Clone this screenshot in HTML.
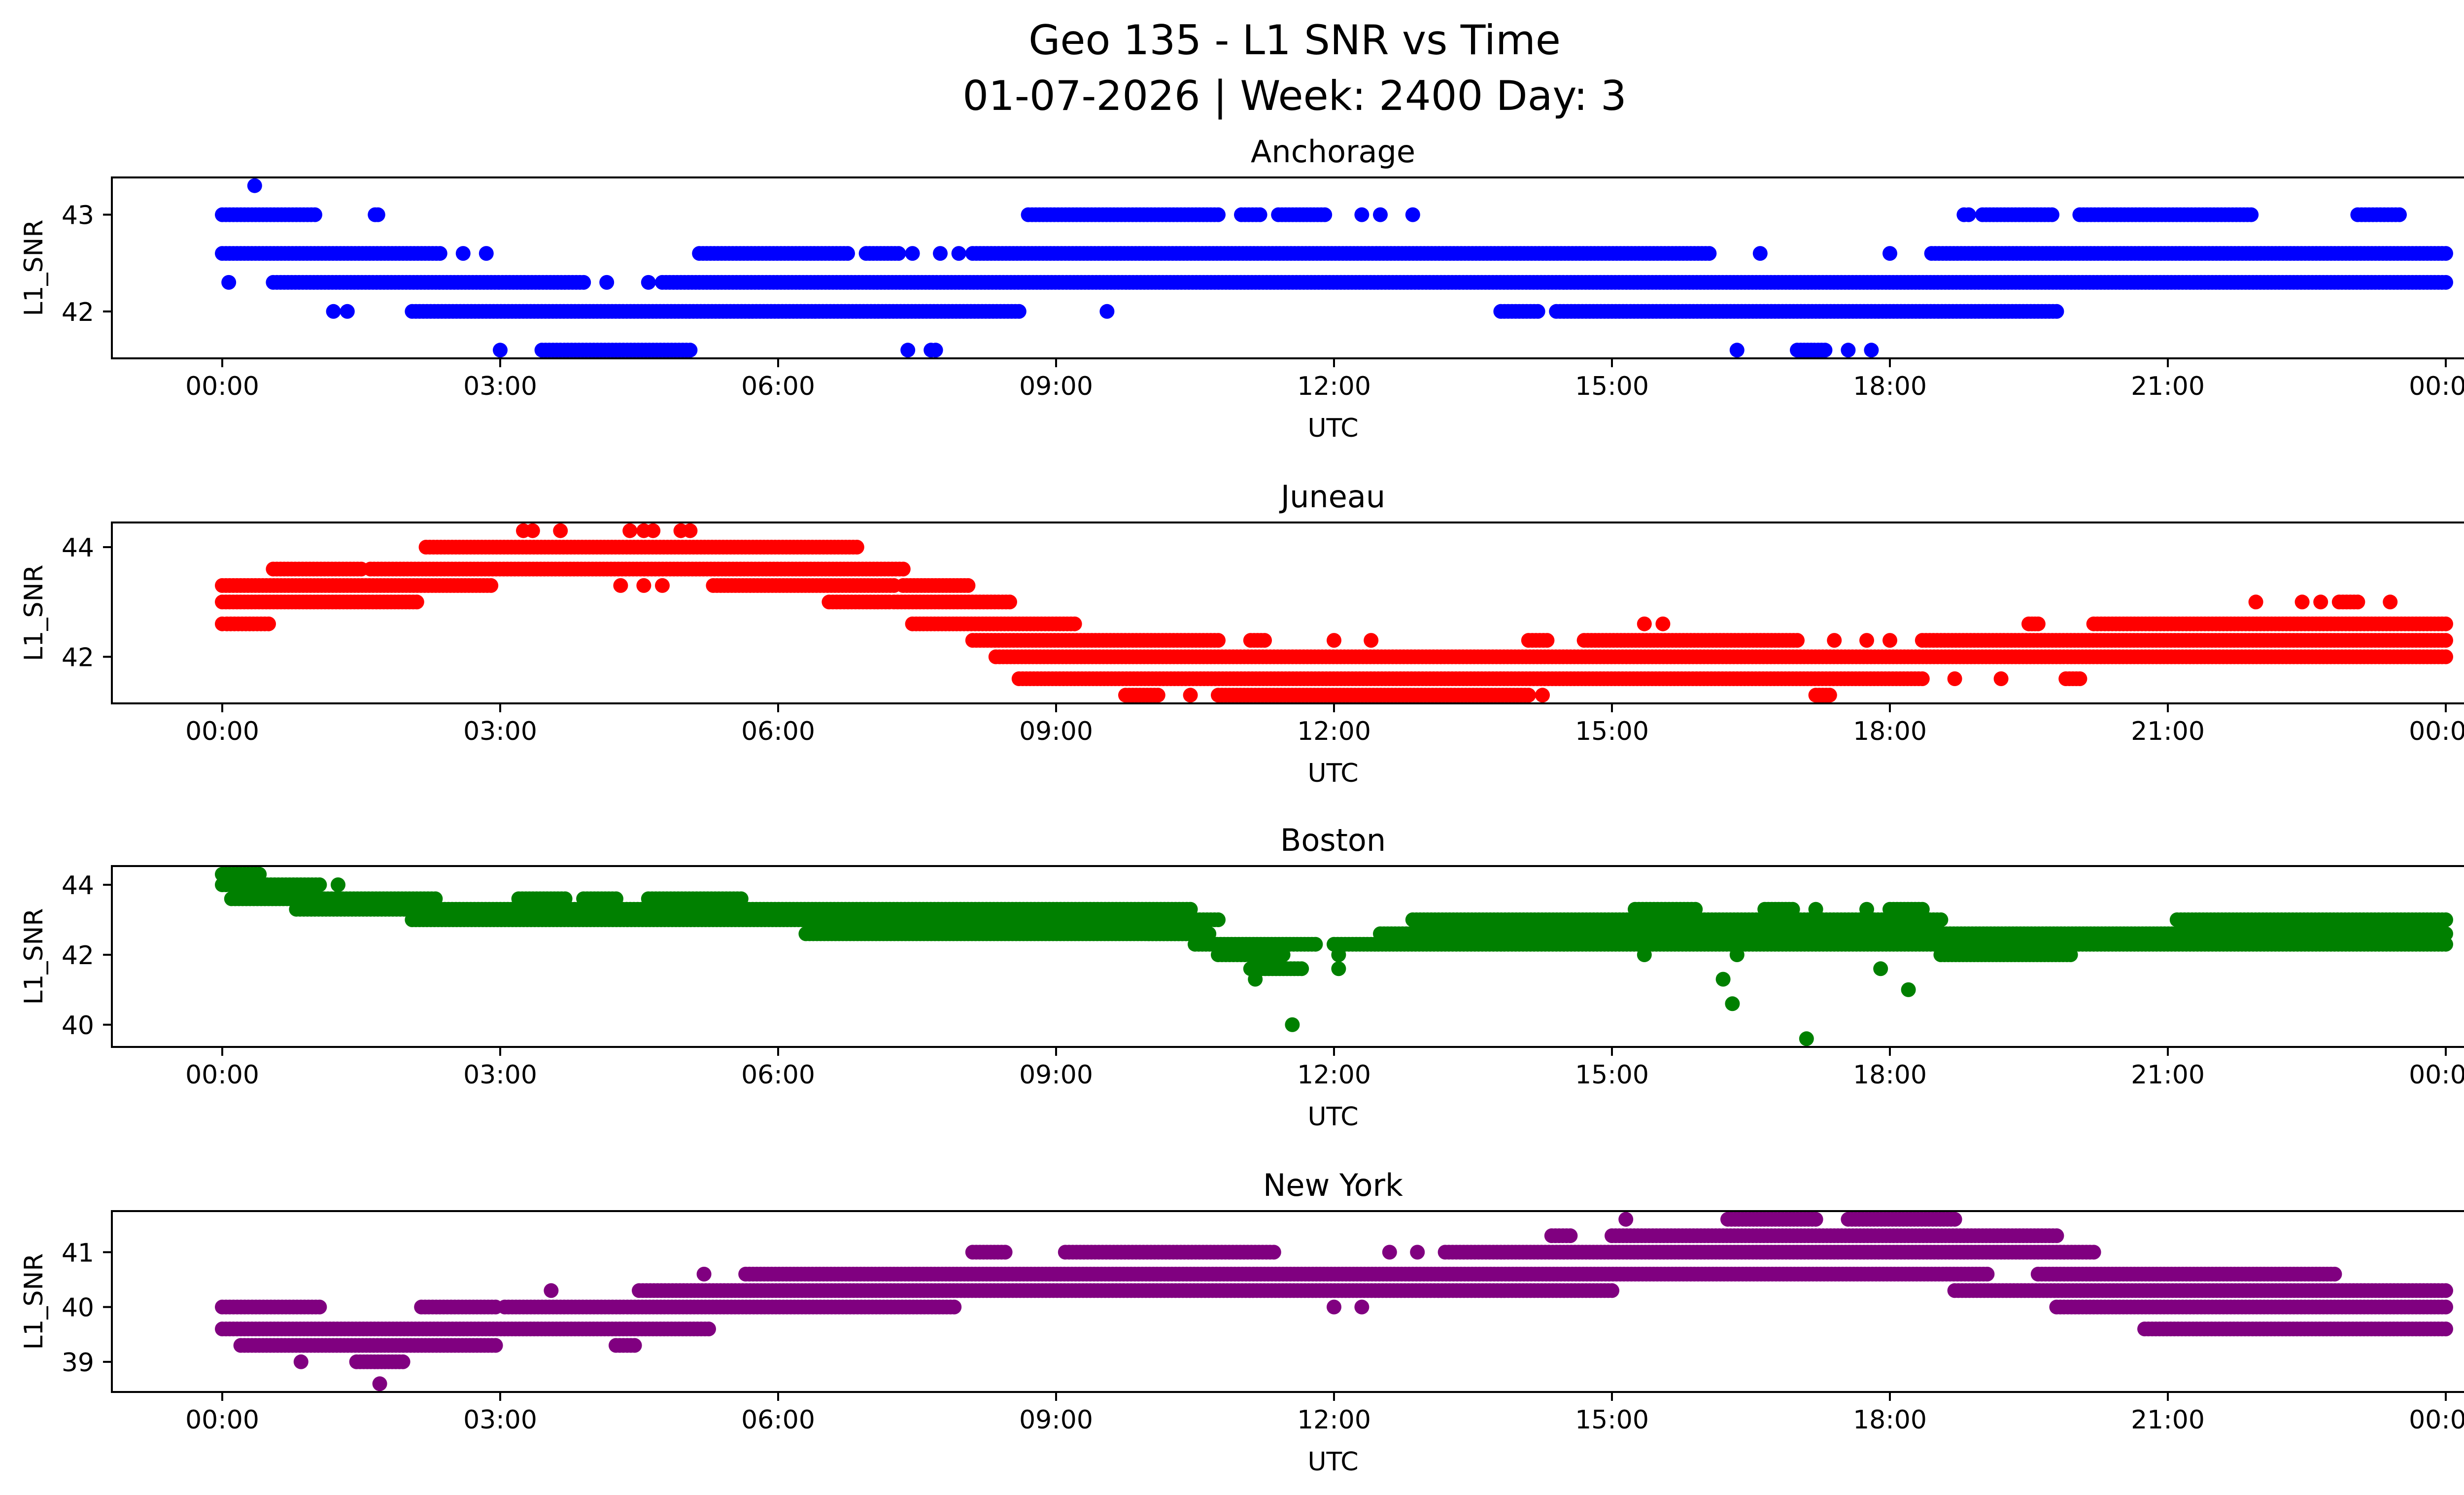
<!DOCTYPE html>
<html><head><meta charset="utf-8"><style>
html,body{margin:0;padding:0;background:#fff;}
svg{display:block;font-family:"DejaVu Sans","Liberation Sans",sans-serif;}
</style></head><body>
<svg id="chart" width="5225" height="3033" viewBox="0 0 5225 3033" xmlns="http://www.w3.org/2000/svg">
<rect width="5225" height="3033" fill="#fff"/>
<text x="2627" y="110" font-size="83" text-anchor="middle">Geo 135 - L1 SNR vs Time</text>
<text x="2627" y="223" font-size="83" text-anchor="middle">01-07-2026 | Week: 2400 Day: 3</text>
</svg>
<script>
// x-axis
const xTickHours = [0,3,6,9,12,15,18,21,24];
const xTickLabels = ["00:00","03:00","06:00","09:00","12:00","15:00","18:00","21:00","00:00"];

// Anchorage bands
const anchValues = [43.3,43,43,43,43,43,43,43,43,43,43,43,43,
 42.6,42.6,42.6,42.6,42.6,42.6,42.6,42.6,42.6,42.6,42.6,42.6,
 42.3,42.3,42.3,42.3,42.3,
 42,42,42,42,42,42,
 41.6,41.6,41.6,41.6,41.6,41.6,41.6,41.6];
const anchStarts = [0.35,0,1.65,8.7,11.0,11.4,12.3,12.5,12.85,18.8,19.0,20.05,23.05,
 0,2.6,2.85,5.15,6.95,7.45,7.75,7.95,8.1,16.6,18.0,18.45,
 0.07,0.55,4.15,4.6,4.75,
 1.2,1.35,2.05,9.55,13.8,14.4,
 3.0,3.45,7.4,7.65,16.35,17.0,17.55,17.8];
const anchEnds = [0.35,1.0,1.68,10.75,11.2,11.9,12.3,12.5,12.85,18.85,19.75,21.9,23.5,
 2.35,2.6,2.85,6.75,7.3,7.45,7.75,7.95,16.05,16.6,18.0,18.45,
 0.07,3.9,4.15,4.6,24,
 1.2,1.35,8.6,9.55,14.2,19.8,
 3.0,5.05,7.4,7.7,16.35,17.3,17.55,17.8];
// fix last 42.6 band to run to end of day
anchEnds[24] = 24;

// Juneau bands
const junValues = [44.3,44.3,44.3,44.3,44.3,44.3,44.3,44.3,
 44,43.6,43.6,
 43.3,43.3,43.3,43.3,43.3,43.3,
 43,43,43,43,43,43,43,43,
 42.6,42.6,42.6,42.6,42.6,42.6,42.6,
 42.3,42.3,42.3,42.3,42.3,42.3,42.3,42.3,42.3,42.3,
 42,
 41.6,41.6,41.6,41.6,
 41.3,41.3,41.3,41.3,41.3];
const junStarts = [3.25,3.35,3.65,4.4,4.55,4.65,4.95,5.05,
 2.2,0.55,1.6,
 0,4.3,4.55,4.75,5.3,7.35,
 0,6.55,7.25,21.95,22.45,22.65,22.85,23.4,
 0.05,7.45,15.35,15.55,19.5,20.2,0,
 8.1,11.1,12.0,12.4,14.1,14.7,17.4,17.75,18.0,18.35,
 8.35,
 8.6,18.7,19.2,19.9,
 9.75,10.45,10.75,14.25,17.2];
const junEnds = [3.25,3.35,3.65,4.4,4.55,4.65,4.95,5.05,
 6.85,1.5,7.35,
 2.9,4.3,4.55,4.75,7.25,8.05,
 2.1,7.2,8.5,21.95,22.45,22.65,23.05,23.4,
 0.5,9.2,15.35,15.55,19.6,24,0,
 10.75,11.25,12.0,12.4,14.3,17.0,17.4,17.75,18.0,24,
 24,
 18.35,18.7,19.2,20.05,
 10.1,10.45,14.1,14.25,17.35];

// Boston bands
const bosValues = [44.3,44,44,
 43.6,43.6,43.6,43.6,
 43.3,43.3,43.3,43.3,43.3,43.3,
 43,43,43,
 42.6,42.6,42.6,
 42.3,42.3,
 42,42,42,42,
 41.6,41.6,41.3,
 40,41.3,40.6,39.6,41.6,41,42];
const bosStarts = [0,0,1.25,
 0.1,3.2,3.9,4.6,
 0.8,15.25,16.65,17.2,17.75,18.0,
 2.05,12.85,21.1,
 6.3,10.0,12.5,
 10.5,12.0,
 10.75,12.05,18.55,15.35,
 11.1,12.05,11.15,
 11.55,16.2,16.3,17.1,17.9,18.2,16.35];
const bosEnds = [0.4,1.05,1.25,
 2.3,3.7,4.25,5.6,
 10.45,15.9,16.95,17.2,17.75,18.35,
 10.75,18.55,24,
 10.4,10.65,24,
 11.8,24,
 11.45,12.05,19.95,15.35,
 11.65,12.05,11.15,
 11.55,16.2,16.3,17.1,17.9,18.2,16.35];

// New York bands
const nyValues = [40,40,40,40,40,40,
 39.6,39.6,
 39.3,39.3,
 39,39,38.6,
 40.3,40.3,40.3,
 40.6,40.6,40.6,
 41,41,41,41,41,
 41.3,41.3,
 41.6,41.6,41.6];
const nyStarts = [0,2.15,3.05,19.8,12.0,12.3,
 0,20.75,
 0.2,4.25,
 0.85,1.45,1.7,
 3.55,4.5,18.7,
 5.2,5.65,19.6,
 8.1,9.1,12.6,12.9,13.2,
 14.35,15.0,
 15.15,16.25,17.55];
const nyEnds = [1.05,2.95,7.9,24,12.0,12.3,
 5.25,24,
 2.95,4.45,
 0.85,1.95,1.7,
 3.55,15.0,24,
 5.2,19.05,22.8,
 8.45,11.35,12.6,12.9,20.2,
 14.55,19.8,
 15.15,17.2,18.7];

const panels = [
 {name:"anchorage", title:"Anchorage", top:360, ymin:41.515, ymax:43.385, ticks:[42,43], color:"#0000ff", v:anchValues, s:anchStarts, e:anchEnds},
 {name:"juneau", title:"Juneau", top:1060, ymin:41.15, ymax:44.45, ticks:[42,44], color:"#ff0000", v:junValues, s:junStarts, e:junEnds},
 {name:"boston", title:"Boston", top:1757, ymin:39.365, ymax:44.535, ticks:[40,42,44], color:"#008000", v:bosValues, s:bosStarts, e:bosEnds},
 {name:"new-york", title:"New York", top:2457, ymin:38.45, ymax:41.75, ticks:[39,40,41], color:"#800080", v:nyValues, s:nyStarts, e:nyEnds}
];

const NS = "http://www.w3.org/2000/svg";
const svg = document.getElementById("chart");
const AX_L = 227, AX_R = 5183, AX_H = 367;
const X0 = 451, PX_PER_H = 188;
function xScale(h){ return X0 + h * PX_PER_H; }
function mk(tag, attrs, parent){
  const el = document.createElementNS(NS, tag);
  for (const k in attrs) el.setAttribute(k, attrs[k]);
  (parent || svg).appendChild(el);
  return el;
}

panels.forEach(p => {
  const g = mk("g", {});
  
  
  const top = p.top, bot = top + AX_H;
  const yScale = v => bot - (v - p.ymin) / (p.ymax - p.ymin) * AX_H;

  const clip = mk("clipPath", {id:"clip-" + p.name}, g);
  mk("rect", {x:AX_L, y:top, width:AX_R-AX_L, height:AX_H}, clip);

  const pts = mk("g", {fill:p.color, "clip-path":"url(#clip-" + p.name + ")"}, g);
  
  
  for (let i = 0; i < p.v.length; i++) {
    const y = yScale(p.v[i]);
    const a = p.s[i], b = p.e[i];
    const n = Math.max(1, Math.round((b - a) / 0.04));
    for (let k = 0; k <= n; k++) {
      const h = (b === a) ? a : a + (b - a) * k / n;
      const c = mk("circle", {cx:xScale(h).toFixed(1), cy:y.toFixed(1), r:15}, pts);
      
      
      if (b === a) break;
    }
  }

  const frame = mk("rect", {x:AX_L, y:top, width:AX_R-AX_L, height:AX_H, fill:"none", stroke:"#000", "stroke-width":4}, g);
  
  

  xTickHours.forEach((h, i) => {
    const x = xScale(h);
    mk("line", {x1:x, y1:bot, x2:x, y2:bot+18, stroke:"#000", "stroke-width":4}, g);
    const t = mk("text", {x:x, y:bot+74, "font-size":52, "text-anchor":"middle"}, g);
    
    
    t.textContent = xTickLabels[i];
  });
  p.ticks.forEach(v => {
    const y = yScale(v);
    mk("line", {x1:AX_L-18, y1:y, x2:AX_L, y2:y, stroke:"#000", "stroke-width":4}, g);
    const t = mk("text", {x:AX_L-36, y:y+19, "font-size":52, "text-anchor":"end"}, g);
    
    
    t.textContent = String(v);
  });

  const xl = mk("text", {x:(AX_L+AX_R)/2, y:bot+159, "font-size":52, "text-anchor":"middle"}, g);
  
  
  xl.textContent = "UTC";

  const cy = top + AX_H/2;
  const yl = mk("text", {x:86, y:cy, "font-size":52, "text-anchor":"middle", transform:"rotate(-90 86 " + cy + ")"}, g);
  
  
  yl.textContent = "L1_SNR";

  const tt = mk("text", {x:(AX_L+AX_R)/2, y:top-31, "font-size":62, "text-anchor":"middle"}, g);
  
  
  tt.textContent = p.title;
});
</script>
</body></html>
